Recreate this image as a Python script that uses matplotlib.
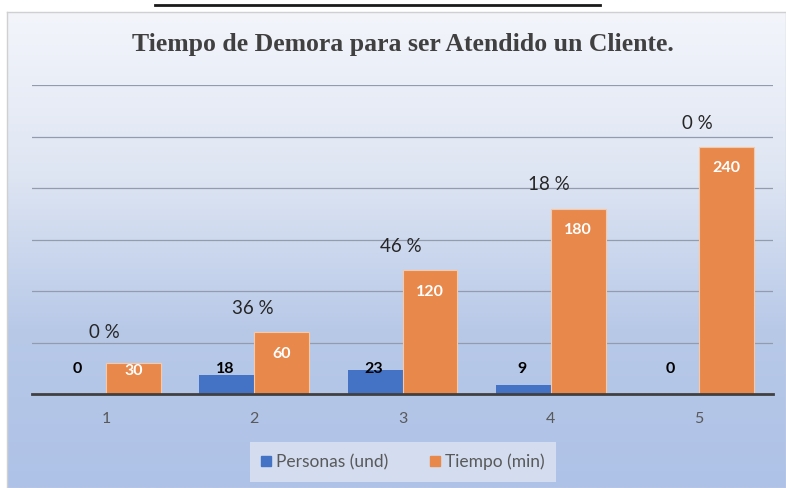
import numpy as np
import matplotlib
matplotlib.use("Agg")
import matplotlib.pyplot as plt
from matplotlib.lines import Line2D
from matplotlib.colors import LinearSegmentedColormap

# === DATA ===
categories = ["1", "2", "3", "4", "5"]
personas = [0, 18, 23, 9, 0]
tiempo = [30, 60, 120, 180, 240]
title = "Tiempo de Demora para ser Atendido un Cliente."
legend_labels = ["Personas (und)", "Tiempo (min)"]

total = sum(personas)
porcentajes = [round(p * 100 / total) for p in personas]

# === STYLE ===
BLUE = "#4472C4"
ORANGE = "#E8884B"
W = 0.37

fig = plt.figure(figsize=(7.86, 4.88), dpi=100)
fig.patch.set_facecolor("white")

# gradient background for the chart area
bg = fig.add_axes([7 / 786, 0, 1 - 7 / 786, 476 / 488], zorder=0)
cmap = LinearSegmentedColormap.from_list("bg", ["#f3f5fb", "#dfe6f3", "#b8c9e8", "#aec2e7"])
grad = np.linspace(0, 1, 256).reshape(-1, 1)
bg.imshow(grad, aspect="auto", cmap=cmap, extent=[0, 1, 0, 1], origin="upper")
bg.set_xticks([])
bg.set_yticks([])
for s in bg.spines.values():
    s.set_color("#d0d0d0")
    s.set_linewidth(1)

ax = fig.add_axes([32 / 786, 94 / 488, 741 / 786, 309 / 488], zorder=1)
ax.patch.set_alpha(0)
x = np.arange(len(categories))

ax.bar(x - W / 2, personas, W, color=BLUE, zorder=3)
ax.bar(x + W / 2, tiempo, W, color=ORANGE, edgecolor="#f6c9a8", linewidth=0.8, zorder=3)

ax.set_xlim(-0.5, len(categories) - 0.5)
ax.set_ylim(0, 300)
ax.set_yticks(np.arange(50, 301, 50))
ax.yaxis.grid(True, color="#939cae", linewidth=0.9, zorder=1)
ax.tick_params(axis="y", left=False, labelleft=False)
ax.set_xticks(x)
ax.set_xticklabels(categories, fontsize=11.5, color="#595959", fontfamily="Lato")
ax.tick_params(axis="x", length=0, pad=13)
for s in ["top", "right", "left"]:
    ax.spines[s].set_visible(False)
ax.spines["bottom"].set_color("#404040")
ax.spines["bottom"].set_linewidth(2)
ax.spines["bottom"].set_zorder(4)

# === LABELS ===
for i in range(len(categories)):
    ax.text(x[i] - W / 2 - 0.01, 24, str(personas[i]), ha="center", va="center",
            fontsize=11.5, fontweight="bold", color="black", fontfamily="Lato", zorder=5)
    ty = tiempo[i] - 8 if tiempo[i] < 50 else tiempo[i] - 21
    ax.text(x[i] + W / 2, ty, str(tiempo[i]), ha="center", va="center",
            fontsize=11.5, fontweight="bold", color="white", fontfamily="Lato", zorder=5)
    py = tiempo[i] + 30 if tiempo[i] < 50 else tiempo[i] + 23
    ax.text(x[i] - 0.01, py, f"{porcentajes[i]} %", ha="center", va="center",
            fontsize=13.5, color="#262626", fontfamily="Lato", zorder=5)

fig.text(403 / 786, 1 - 44 / 488, title, ha="center", va="center",
         fontsize=18.5, fontweight="bold", color="#404040", fontfamily="Liberation Serif")

# top black line above chart
fig.add_artist(Line2D([155 / 786, 600 / 786], [1 - 5 / 488, 1 - 5 / 488],
                      color="#1a1a1a", linewidth=2))

handles = [plt.Rectangle((0, 0), 1, 1, color=BLUE), plt.Rectangle((0, 0), 1, 1, color=ORANGE)]
leg = fig.legend(handles, legend_labels, loc="center", bbox_to_anchor=(403 / 786, 1 - 462 / 488),
                 ncol=2, frameon=True, fancybox=False, handlelength=0.55, handleheight=0.55,
                 handletextpad=0.3, columnspacing=2.4, borderpad=0.65, borderaxespad=0,
                 prop={"family": "Lato", "size": 12.5})
leg.get_frame().set_facecolor("#d3ddef")
leg.get_frame().set_edgecolor("none")
leg.get_frame().set_alpha(1)
for t in leg.get_texts():
    t.set_color("#595959")

plt.savefig("out.png", dpi=100)
